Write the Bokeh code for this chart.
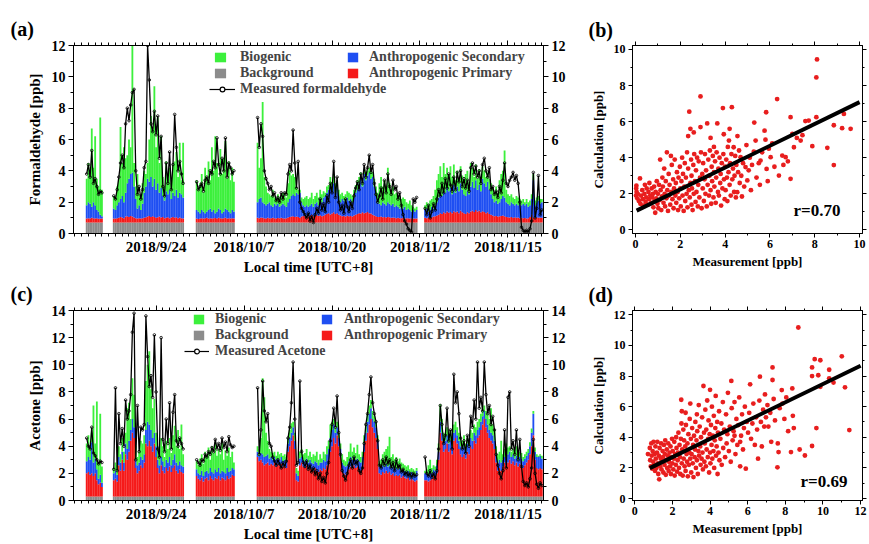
import numpy as np
import pandas as pd
from bokeh.plotting import figure
from bokeh.layouts import column, row
from bokeh.models import (ColumnDataSource, FixedTicker, LinearAxis, Legend, LegendItem,
                          Label, Range1d, CustomJSTickFormatter)
from bokeh.embed import file_html
from bokeh.resources import INLINE

FONT = "Liberation Serif"
GREEN, GRAY, BLUE, RED = "#3cf03c", "#8c8c8c", "#1f4ff2", "#f51a1a"
DOT_RED = "#e81e1e"

# ---------------- time axis: 6-hourly samples in measurement segments ----------------
SEGMENT_STARTS = ["2018-09-13 18:00", "2018-09-17 18:00", "2018-09-30 00:00",
                  "2018-10-09 00:00", "2018-11-02 18:00"]
SEGMENT_LENGTHS = [10, 42, 23, 95, 70]
REF_DAY = "2018-09-24"
DATE_TICKS = [0, 13, 26, 39, 52]
DATE_LABELS = ["2018/9/24", "2018/10/7", "2018/10/20", "2018/11/2", "2018/11/15"]
TIME_RANGE = (-12.2, 57.25)

# ---------------- (a) formaldehyde, ppb (stack tops are cumulative) ----------------
HCHO_BACKGROUND = 0.7
HCHO_MEASURED = [
    3.8, 4.4, 3.6, 5.3, 3.2, 3.5, 3.0, 2.5, 2.7, 2.6,
    2.4, 2.2, 2.8, 3.6, 4.5, 5.0, 4.2, 7.0, 8.0, 7.2, 8.2, 9.0, 9.2, 4.0, 2.5, 3.0, 2.2, 2.8, 4.2, 4.6,
    12.0, 9.8, 7.0, 6.5, 7.8, 6.3, 7.5, 4.8, 6.2, 3.0, 2.4, 4.5, 3.2, 5.2, 2.8, 4.4, 7.6, 5.5, 4.0, 4.6, 3.8, 3.2,
    3.3, 2.8, 3.0, 3.2, 2.7, 3.4, 3.6, 3.2, 4.0, 3.8, 4.6, 4.2, 6.1, 4.4, 3.8, 4.8, 4.0, 6.1, 3.6, 4.5, 4.2, 3.8, 4.0,
    7.4, 5.5, 7.0, 6.2, 4.0, 3.5, 3.2, 2.8, 3.0, 2.4, 2.6, 2.1, 2.3, 2.0, 2.6, 2.2, 2.6, 2.5, 3.8, 4.4,
    4.0, 6.6, 4.5, 2.9, 4.6, 2.0, 1.6, 1.4, 1.2, 1.0, 1.3, 0.8, 1.1, 0.7, 1.2, 1.6, 1.3, 2.2, 1.5, 1.9,
    1.4, 2.4, 2.0, 3.2, 2.6, 4.6, 2.3, 3.6, 2.0, 1.5, 1.8, 1.3, 2.2, 1.7, 1.4, 2.0, 1.6, 2.4, 2.9, 3.3,
    2.8, 3.8, 3.2, 4.4, 3.6, 4.2, 5.0, 3.9, 4.4, 3.2, 2.5, 2.0, 2.4, 2.9, 2.2, 3.4, 2.6, 3.8, 3.0, 2.5,
    3.4, 2.8, 3.0, 2.2, 2.6, 1.8, 1.2, 0.8, 0.6, 0.3, 0.2, 0.1, 2.2, 2.0, 2.3,
    1.6, 1.2, 1.8, 1.0, 1.4, 1.9, 1.5, 2.2, 2.8, 2.4, 3.2, 2.6, 3.5, 2.9, 3.8, 3.1, 2.7, 3.6, 2.8, 3.9, 3.3,
    4.0, 3.0, 3.5, 2.9, 3.4, 2.7, 4.2, 4.5, 3.8, 4.3, 3.6, 4.0, 3.2, 4.4, 4.8, 4.0, 3.6, 4.2, 2.8, 3.0,
    2.5, 2.7, 2.3, 3.0, 2.6, 3.4, 4.5, 3.2, 3.0, 3.4, 3.6, 3.9, 3.4, 3.7, 3.2, 2.0, 0.4, 0.2, 0.1, 0.2,
    0.1, 0.3, 0.8, 3.9, 1.0, 1.6, 3.7, 1.2, 1.5]
HCHO_TOP_PRIMARY = [
    0.95, 0.97, 0.96, 1.0, 0.98, 0.95, 0.97, 0.94, 0.96, 0.95,
    0.95, 0.96, 0.98, 1.0, 1.05, 1.02, 0.98, 1.08, 1.1, 1.05, 1.12, 1.08, 1.02, 0.98, 0.96, 0.98, 0.95, 0.97,
    1.0, 1.04, 1.08, 1.12, 1.06, 1.1, 1.05, 1.0, 1.04, 1.08, 1.02, 1.06, 0.98, 1.0, 1.04, 0.98, 1.02, 1.06,
    1.0, 1.04, 0.98, 1.02, 0.98, 0.96,
    0.95, 0.93, 0.96, 0.98, 0.95, 0.97, 1.0, 0.96, 0.98, 0.95, 0.97, 0.99, 0.96, 1.0, 0.97, 0.95, 0.98, 1.0,
    0.96, 0.98, 0.95, 0.97, 0.96,
    1.0, 0.98, 1.02, 1.0, 0.98, 0.96, 1.0, 0.98, 0.97, 1.0, 0.98, 0.96, 0.99, 0.97, 1.0, 0.98, 0.96, 0.98,
    1.02, 1.05, 1.08, 1.1, 1.06, 1.08,
    1.05, 1.0, 1.08, 1.12, 1.1, 1.15, 1.08, 1.12, 1.18, 1.1, 1.14, 1.2, 1.12, 1.16, 1.1, 1.14, 1.2, 1.25,
    1.3, 1.22, 1.28, 1.35, 1.25, 1.3,
    1.2, 1.15, 1.1, 1.12, 1.08, 1.14, 1.1, 1.12, 1.08, 1.15, 1.2, 1.25, 1.3, 1.28, 1.35, 1.3, 1.32, 1.38,
    1.3, 1.28, 1.2, 1.15, 1.1, 1.06,
    1.05, 1.08, 1.04, 1.06, 1.02, 1.05, 1.03, 1.0, 1.02, 1.0, 0.98, 1.0, 0.98, 0.97, 0.99, 0.96, 0.98, 0.97,
    0.95, 0.97, 0.96, 0.95, 0.96,
    1.0, 0.98, 1.02, 1.0, 1.04, 1.08, 1.1, 1.15, 1.2, 1.3, 1.25, 1.35, 1.3, 1.4, 1.32, 1.38, 1.3, 1.42,
    1.35, 1.4, 1.3, 1.45, 1.35, 1.3,
    1.25, 1.35, 1.3, 1.4, 1.45, 1.38, 1.5, 1.4, 1.45, 1.35, 1.42, 1.38, 1.3, 1.35, 1.25, 1.2, 1.15, 1.1,
    1.12, 1.08, 1.1, 1.12, 1.15, 1.1,
    1.06, 1.04, 1.02, 1.05, 1.0, 1.03, 1.0, 1.02, 0.98, 1.0, 0.97, 0.99, 0.96, 0.98, 1.05, 1.2, 1.02, 1.0,
    1.04, 1.0, 1.02, 1.0]
HCHO_TOP_SECONDARY = [
    1.8, 2.0, 1.9, 1.7, 2.0, 1.8, 1.5, 1.4, 1.2, 1.1,
    1.6, 1.5, 1.8, 2.0, 2.2, 2.4, 2.0, 2.6, 3.2, 3.5, 3.8, 3.9, 3.0, 2.2, 1.6, 1.8, 1.5, 1.9, 2.6, 3.0,
    3.5, 3.3, 3.6, 3.0, 3.5, 2.8, 3.2, 2.6, 2.9, 2.4, 2.1, 2.7, 2.5, 2.8, 2.2, 2.6, 2.4, 2.8, 2.3, 2.6, 2.5, 2.3,
    1.5, 1.4, 1.3, 1.5, 1.4, 1.3, 1.4, 1.5, 1.6, 1.4, 1.5, 1.3, 1.4, 1.6, 1.5, 1.3, 1.4, 1.6, 1.5, 1.4, 1.3, 1.5, 1.4,
    2.0, 2.2, 2.3, 2.0, 1.9, 1.8, 1.9, 2.0, 1.8, 1.7, 1.9, 1.8, 1.9, 1.7, 1.8, 1.9, 1.8, 1.7, 2.0, 2.2,
    2.4, 2.5, 2.4, 2.6, 2.5, 2.6, 2.0, 1.8, 1.7, 1.8, 1.7, 1.8, 1.9, 1.7, 1.9, 2.0, 1.8, 2.2, 2.0, 2.3,
    2.4, 2.6, 2.8, 3.0, 2.7, 3.2, 2.6, 2.9, 2.4, 2.0, 2.2, 2.1, 2.0, 2.3, 2.1, 2.2, 2.0, 2.3, 2.6, 2.8,
    3.2, 3.6, 3.0, 3.8, 3.4, 3.7, 3.9, 3.5, 3.6, 3.0, 2.4, 2.0, 1.9, 1.8, 2.0, 1.9, 1.8, 2.0, 1.9, 1.8,
    1.9, 1.7, 1.8, 1.7, 1.6, 1.7, 1.6, 1.7, 1.5, 1.6, 1.5, 1.4, 1.5, 1.4, 1.5,
    1.5, 1.6, 1.4, 1.5, 1.7, 1.6, 1.8, 2.0, 2.3, 2.6, 2.4, 2.8, 2.6, 3.0, 2.7, 2.9, 2.5, 3.1, 2.6, 3.0, 2.7,
    3.2, 2.8, 2.5, 2.4, 2.7, 2.5, 3.0, 3.3, 2.9, 3.4, 2.8, 3.1, 2.7, 3.5, 3.2, 3.0, 3.3, 2.8, 2.5, 2.2,
    2.0, 2.1, 1.9, 2.0, 2.2, 2.4, 2.3, 2.0, 1.9, 1.8, 2.0, 1.9, 1.8, 1.9, 1.8, 1.9, 1.8, 1.9, 1.8, 1.9,
    1.7, 1.8, 2.2, 3.4, 1.8, 2.0, 2.1, 1.9, 2.0]
HCHO_TOP_BIOGENIC = [
    3.5, 4.5, 4.0, 6.7, 4.2, 6.2, 3.5, 3.0, 7.4, 2.8,
    2.4, 2.2, 3.0, 3.5, 6.8, 4.5, 5.5, 4.8, 5.0, 6.0, 5.5, 12.0, 4.5, 3.0, 3.8, 2.5, 2.3, 3.2, 4.0, 3.8,
    4.5, 6.0, 7.5, 6.8, 9.4, 5.5, 7.4, 4.5, 6.2, 3.6, 3.0, 4.6, 3.5, 4.2, 3.2, 4.4, 4.6, 5.2, 3.6, 5.8, 3.4, 5.8,
    3.4, 2.8, 3.2, 3.8, 2.6, 4.2, 3.5, 4.6, 3.4, 5.5, 4.0, 6.2, 4.5, 3.6, 5.4, 3.8, 4.8, 5.9, 3.5, 4.6, 3.4, 4.2, 3.3,
    5.8, 4.2, 4.8, 8.4, 3.6, 3.0, 2.6, 2.5, 2.4, 2.8, 2.3, 2.2, 2.5, 2.3, 2.4, 2.6, 2.5, 2.3, 3.2, 4.0,
    3.7, 3.8, 3.6, 2.9, 2.8, 2.8, 2.3, 2.2, 2.3, 2.4, 2.2, 2.3, 2.6, 2.2, 2.4, 2.6, 2.3, 2.8, 2.5, 2.7,
    2.6, 3.0, 3.1, 3.6, 3.3, 3.8, 3.2, 3.4, 2.8, 2.5, 2.6, 2.4, 2.5, 2.7, 2.6, 2.5, 2.4, 2.8, 3.1, 3.4,
    3.6, 3.9, 3.4, 4.1, 3.8, 4.0, 4.2, 4.1, 3.9, 3.5, 3.0, 2.6, 3.2, 3.6, 3.0, 3.4, 2.8, 4.2, 3.2, 2.6,
    3.0, 2.5, 2.6, 2.3, 2.4, 2.2, 2.3, 2.2, 2.0, 1.9, 2.1, 1.8, 1.7, 1.6, 1.7,
    1.8, 2.0, 1.9, 2.1, 2.2, 2.4, 2.8, 3.4, 3.8, 4.3, 3.6, 4.5, 3.8, 4.2, 3.5, 4.3, 3.6, 4.4, 3.4, 4.0, 3.5,
    4.3, 3.7, 3.2, 3.8, 4.0, 3.3, 4.5, 4.2, 3.6, 4.4, 3.5, 4.1, 3.4, 4.3, 4.0, 3.6, 3.9, 3.5, 3.2, 2.9,
    2.6, 3.0, 2.6, 3.4, 3.8, 4.0, 5.3, 2.8, 2.5, 2.4, 2.5, 2.3, 2.2, 2.4, 2.3, 2.2, 2.1, 2.2, 2.0, 2.2,
    2.0, 2.1, 2.5, 3.8, 2.1, 2.3, 2.4, 2.2, 2.2]

# ---------------- (c) acetone, ppb (stack tops are cumulative) ----------------
ACETONE_BACKGROUND = 0.3
ACETONE_MEASURED = [
    4.6, 4.0, 3.8, 5.4, 3.5, 3.3, 3.0, 2.7, 2.9, 2.8,
    2.3, 8.3, 2.2, 6.4, 4.2, 5.3, 4.0, 7.4, 6.0, 6.6, 7.8, 12.4, 13.8, 3.0, 7.0, 3.6, 5.4, 5.2, 5.6, 13.6,
    10.6, 8.4, 9.2, 7.6, 12.2, 8.0, 3.8, 3.2, 12.0, 4.5, 3.6, 6.0, 4.2, 7.2, 3.8, 6.5, 7.8, 4.4, 4.0, 4.6, 4.2, 3.8,
    3.0, 2.8, 2.6, 3.0, 2.9, 3.4, 3.2, 3.6, 3.4, 3.9, 3.6, 4.5, 3.8, 4.2, 3.7, 4.6, 3.9, 4.3, 3.6, 4.7, 4.1, 3.9, 4.0,
    8.3, 3.4, 5.2, 8.8, 6.6, 5.8, 6.4, 4.2, 4.0, 3.2, 2.9, 2.6, 3.0, 2.7, 2.4, 2.8, 2.5, 2.9, 4.6, 5.4,
    7.2, 10.2, 6.0, 2.6, 2.8, 8.8, 3.6, 2.8, 2.5, 2.9, 2.3, 2.6, 2.1, 2.4, 1.9, 2.2, 1.6, 2.0, 1.4, 1.7,
    1.3, 2.0, 2.8, 4.4, 5.6, 6.8, 5.4, 7.7, 5.0, 3.4, 2.2, 1.8, 1.5, 2.0, 2.6, 3.0, 2.4, 3.2, 2.7, 2.9,
    2.2, 2.0, 2.4, 4.2, 5.6, 6.4, 7.8, 9.1, 7.2, 6.4, 5.8, 4.4, 2.6, 2.4, 3.0, 2.6, 3.2, 2.7, 3.0, 2.4,
    2.8, 2.2, 3.0, 2.4, 2.6, 2.1, 2.3, 1.9, 2.1, 1.8, 2.0, 1.7, 2.0, 1.8, 1.9,
    3.2, 2.0, 1.8, 2.2, 1.7, 2.0, 1.6, 2.2, 3.8, 7.0, 5.6, 4.2, 4.8, 6.8, 4.4, 5.2, 3.8, 9.3, 7.2, 8.0, 6.4,
    4.6, 3.8, 4.4, 3.5, 4.8, 4.0, 6.2, 5.4, 7.4, 6.0, 10.2, 6.8, 7.6, 6.6, 10.2, 7.8, 6.4, 7.0, 5.6, 6.2,
    5.2, 3.4, 2.6, 2.0, 1.6, 2.2, 5.2, 2.4, 7.6, 8.0, 3.8, 4.4, 3.4, 5.2, 3.0, 4.5, 2.5, 1.4, 1.1, 1.3,
    1.0, 1.6, 2.4, 4.5, 2.0, 1.2, 0.9, 1.3, 1.1]
ACETONE_TOP_PRIMARY = [
    2.0, 2.1, 1.9, 2.0, 1.8, 2.0, 1.5, 1.2, 1.3, 1.0,
    1.5, 1.6, 1.4, 2.6, 2.2, 3.0, 2.2, 3.4, 3.0, 3.6, 4.4, 5.0, 4.6, 2.4, 2.0, 2.2, 2.6, 2.4, 2.8, 4.2,
    4.0, 4.4, 4.0, 3.6, 4.2, 3.2, 2.4, 2.0, 2.6, 2.2, 2.0, 2.4, 2.2, 2.5, 2.1, 2.4, 2.6, 2.2, 2.0, 2.3, 2.1, 2.0,
    1.8, 1.6, 1.5, 1.7, 1.4, 1.6, 1.7, 1.5, 1.8, 1.6, 1.5, 1.7, 1.6, 1.8, 1.5, 1.7, 1.6, 1.5, 1.8, 1.6, 1.7, 1.9, 1.8,
    3.2, 2.9, 3.0, 2.8, 2.6, 2.7, 2.8, 2.6, 2.7, 2.6, 2.8, 2.5, 2.7, 2.6, 2.7, 2.5, 2.6, 2.4, 3.6, 4.0,
    4.4, 4.8, 3.8, 1.5, 1.4, 2.6, 2.8, 2.5, 2.4, 2.6, 2.3, 2.5, 2.3, 2.2, 2.4, 2.2, 2.1, 2.3, 2.2, 2.4,
    2.3, 2.6, 3.0, 3.6, 4.0, 4.6, 4.2, 4.8, 4.0, 3.2, 2.2, 2.0, 1.9, 2.1, 2.3, 2.5, 2.4, 2.6, 2.4, 2.5,
    2.3, 2.2, 2.6, 3.6, 4.4, 5.0, 5.6, 6.0, 5.4, 5.0, 4.6, 3.8, 2.0, 1.9, 2.1, 2.0, 2.2, 2.0, 2.1, 1.9,
    2.0, 1.8, 1.9, 1.8, 1.9, 1.7, 1.8, 1.7, 1.6, 1.7, 1.5, 1.6, 1.5, 1.4, 1.5,
    1.5, 1.5, 1.4, 1.5, 1.6, 1.8, 1.7, 2.0, 3.0, 5.0, 4.4, 3.6, 3.8, 4.2, 3.6, 3.8, 3.4, 4.4, 4.6, 4.2, 3.8,
    3.4, 3.2, 3.4, 3.1, 3.6, 3.4, 4.0, 3.8, 4.4, 4.2, 4.6, 4.8, 5.2, 5.6, 6.0, 5.4, 5.0, 4.6, 4.4, 4.2,
    3.8, 2.8, 2.2, 2.4, 2.2, 2.5, 2.8, 2.6, 2.8, 3.0, 2.7, 2.9, 2.6, 2.8, 2.5, 2.7, 2.6, 2.4, 2.6, 2.8,
    3.0, 3.4, 4.0, 4.8, 3.0, 2.4, 2.3, 2.4, 2.3]
ACETONE_TOP_SECONDARY = [
    2.9, 3.2, 3.0, 4.3, 2.8, 3.1, 2.3, 1.6, 1.9, 1.3,
    2.0, 2.2, 1.9, 3.2, 2.8, 3.6, 2.8, 4.2, 3.8, 4.4, 5.2, 6.0, 5.4, 3.0, 2.6, 2.8, 3.2, 3.0, 3.4, 5.2,
    5.8, 5.6, 5.2, 4.6, 5.0, 4.0, 3.0, 2.6, 3.2, 2.9, 2.5, 3.0, 2.8, 3.2, 2.6, 3.0, 3.4, 2.8, 2.6, 2.9, 2.6, 2.5,
    2.3, 2.0, 1.9, 2.2, 1.8, 2.1, 2.2, 2.0, 2.4, 2.1, 2.0, 2.3, 2.1, 2.4, 2.0, 2.2, 2.1, 2.0, 2.4, 2.1, 2.2, 2.4, 2.3,
    3.6, 3.3, 3.5, 3.4, 3.2, 3.3, 3.4, 3.1, 3.2, 3.0, 3.2, 3.0, 3.1, 3.0, 3.2, 2.9, 3.0, 2.9, 4.2, 4.6,
    5.0, 5.4, 4.4, 2.0, 1.8, 3.1, 3.2, 3.0, 2.9, 3.1, 2.8, 3.0, 2.8, 2.7, 2.9, 2.8, 2.6, 2.8, 2.8, 3.0,
    2.9, 3.4, 3.8, 4.6, 5.2, 5.6, 5.0, 5.4, 4.6, 3.8, 2.8, 2.6, 2.5, 2.6, 2.9, 3.2, 3.0, 3.2, 3.0, 3.1,
    2.9, 2.8, 3.2, 4.2, 5.0, 5.8, 6.4, 6.8, 6.0, 5.8, 5.4, 4.4, 2.5, 2.4, 2.6, 2.5, 2.7, 2.5, 2.6, 2.4,
    2.5, 2.3, 2.4, 2.3, 2.4, 2.2, 2.3, 2.2, 2.1, 2.2, 2.0, 2.1, 2.0, 1.9, 2.2,
    2.0, 2.0, 1.9, 2.1, 2.0, 2.3, 2.2, 2.6, 3.6, 5.8, 5.0, 4.3, 4.4, 4.8, 4.2, 4.4, 4.0, 5.0, 5.2, 4.8, 4.4,
    4.0, 3.8, 4.0, 3.7, 4.2, 4.0, 4.6, 4.4, 5.0, 4.8, 5.2, 5.4, 5.8, 6.2, 6.6, 6.0, 5.6, 5.2, 5.0, 4.8,
    4.4, 3.4, 2.8, 3.0, 2.8, 3.0, 3.2, 3.1, 3.4, 3.6, 3.2, 3.4, 3.1, 3.3, 3.0, 3.2, 3.1, 2.9, 3.1, 3.3,
    3.5, 4.0, 5.0, 6.4, 3.6, 3.2, 3.2, 3.3, 3.1]
ACETONE_TOP_BIOGENIC = [
    4.2, 4.8, 4.0, 5.0, 7.0, 4.2, 7.3, 2.8, 6.4, 2.5,
    2.4, 2.8, 2.6, 4.0, 3.4, 4.6, 3.6, 5.0, 6.8, 7.2, 6.0, 9.0, 7.8, 4.0, 3.2, 3.6, 4.4, 4.2, 4.8, 8.8,
    10.0, 11.0, 8.2, 6.8, 7.5, 5.0, 4.0, 3.4, 4.6, 4.0, 3.2, 4.4, 3.8, 4.6, 3.5, 4.8, 5.5, 4.0, 5.2, 3.8, 5.6, 3.4,
    2.9, 2.6, 3.1, 3.4, 2.7, 3.6, 3.2, 3.9, 3.0, 4.0, 3.5, 4.3, 3.3, 3.8, 3.4, 4.4, 3.0, 3.7, 3.3, 3.9, 3.2, 3.6, 2.8,
    4.0, 3.8, 4.6, 9.0, 7.6, 5.0, 4.4, 3.8, 3.6, 3.5, 3.6, 3.3, 3.6, 3.4, 3.5, 3.3, 3.4, 3.2, 4.6, 5.2,
    5.7, 5.8, 5.0, 2.4, 2.2, 3.6, 3.8, 3.4, 3.5, 3.8, 3.3, 3.6, 3.2, 3.4, 3.3, 3.6, 3.0, 3.4, 3.1, 3.6,
    3.4, 4.0, 4.4, 5.6, 5.8, 6.0, 5.4, 5.8, 5.0, 4.2, 3.4, 3.0, 2.9, 3.2, 3.6, 4.2, 3.6, 3.9, 3.5, 4.1,
    3.4, 3.2, 3.6, 4.8, 5.6, 6.4, 7.0, 7.4, 6.6, 6.2, 5.8, 4.8, 2.9, 3.0, 3.4, 3.6, 3.8, 4.0, 4.7, 3.2,
    3.4, 3.0, 3.2, 2.9, 3.1, 2.8, 2.7, 2.6, 2.5, 2.6, 2.3, 2.4, 2.3, 2.2, 2.4,
    2.2, 2.3, 2.6, 3.0, 2.4, 2.6, 2.5, 3.0, 4.2, 7.1, 6.0, 5.0, 4.9, 5.4, 4.8, 5.2, 4.5, 5.6, 5.8, 5.4, 5.0,
    4.6, 4.4, 4.8, 4.2, 4.6, 4.4, 5.2, 5.0, 5.6, 5.4, 5.8, 6.0, 6.4, 6.8, 7.0, 6.6, 6.4, 6.0, 6.8, 5.6,
    5.2, 4.0, 3.4, 3.6, 4.4, 3.4, 3.8, 4.2, 3.9, 4.0, 3.6, 3.8, 3.6, 4.0, 3.4, 3.6, 3.5, 3.2, 3.4, 3.6,
    3.8, 4.3, 5.3, 6.6, 3.9, 3.4, 3.3, 3.4, 3.3]

# ---------------- (b) / (d) scatter: (measurement, calculation) ppb ----------------
HCHO_SCATTER = [
    (0.02, 1.9), (0.03, 2.3), (0.05, 2.1), (0.04, 2.45), (0.08, 1.75), (0.1, 2.0),
    (0.15, 1.6), (0.2, 2.85), (0.22, 1.45), (0.25, 1.9), (0.3, 2.2), (0.32, 1.7), (0.35, 1.35), (0.4, 2.0),
    (0.42, 2.5), (0.45, 1.55), (0.48, 1.8), (0.5, 2.3), (0.55, 1.4), (0.58, 2.1), (0.6, 1.7), (0.62, 2.6),
    (0.66, 1.9), (0.7, 1.5), (0.72, 2.3), (0.75, 1.8), (0.78, 2.0), (0.8, 1.25), (0.83, 2.4), (0.85, 1.6),
    (0.88, 0.95), (0.9, 2.1), (0.93, 1.75), (0.95, 2.7), (0.98, 1.45), (1.0, 2.0), (1.02, 1.2), (1.05, 2.5),
    (1.08, 1.65), (1.1, 3.9), (1.12, 2.2), (1.15, 1.1), (1.18, 1.85), (1.2, 2.9), (1.22, 2.4), (1.25, 1.5),
    (1.28, 3.4), (1.3, 2.0), (1.32, 1.3), (1.35, 2.7), (1.38, 1.75), (1.4, 4.3), (1.42, 2.2), (1.45, 1.05),
    (1.48, 3.1), (1.5, 1.9), (1.52, 2.5), (1.55, 1.4), (1.58, 4.1), (1.6, 2.1), (1.62, 3.6), (1.65, 1.7),
    (1.68, 2.8), (1.7, 1.2), (1.72, 2.3), (1.75, 3.9), (1.78, 1.9), (1.8, 2.6), (1.82, 1.5), (1.85, 3.2),
    (1.88, 2.1), (1.9, 1.1), (1.92, 2.9), (1.95, 1.75), (1.98, 3.5), (2.0, 2.3), (2.02, 1.3), (2.05, 2.7),
    (2.08, 4.0), (2.1, 1.9), (2.12, 3.1), (2.15, 1.05), (2.18, 2.4), (2.2, 3.7), (2.22, 1.6), (2.25, 2.9),
    (2.28, 2.0), (2.3, 4.3), (2.32, 1.25), (2.35, 3.4), (2.38, 2.2), (2.4, 6.55), (2.42, 1.8), (2.45, 2.6),
    (2.48, 3.9), (2.5, 1.4), (2.35, 5.2), (2.45, 5.6), (2.5, 3.0), (2.52, 2.3), (2.55, 1.1), (2.58, 3.6),
    (2.6, 2.0), (2.62, 4.2), (2.65, 2.7), (2.68, 1.55), (2.7, 3.3), (2.72, 2.1), (2.75, 4.0), (2.78, 1.3),
    (2.8, 2.5), (2.82, 3.8), (2.85, 1.8), (2.88, 2.9), (2.9, 7.4), (2.92, 4.3), (2.95, 1.2), (2.98, 3.1),
    (3.0, 2.3), (2.6, 5.4), (2.9, 5.7), (3.02, 3.7), (3.05, 1.6), (3.08, 2.8), (3.1, 4.2), (3.12, 2.0),
    (3.15, 3.3), (3.18, 1.3), (3.2, 5.9), (3.22, 2.5), (3.25, 3.9), (3.28, 1.9), (3.3, 3.0), (3.32, 4.4),
    (3.35, 2.2), (3.38, 1.45), (3.4, 3.5), (3.42, 2.7), (3.45, 4.1), (3.48, 1.8), (3.5, 3.2), (3.35, 5.1),
    (3.5, 4.6), (3.52, 2.4), (3.55, 3.8), (3.58, 1.5), (3.6, 2.9), (3.62, 4.3), (3.65, 5.9), (3.68, 2.1),
    (3.7, 3.4), (3.72, 1.9), (3.75, 4.0), (3.78, 2.6), (3.8, 3.1), (3.82, 1.35), (3.85, 3.7), (3.88, 2.3),
    (3.9, 6.75), (3.92, 4.2), (3.94, 5.3), (3.95, 2.8), (3.98, 1.7), (4.0, 3.5), (4.02, 2.2), (4.05, 3.9),
    (4.08, 2.9), (4.1, 1.6), (4.12, 4.6), (4.15, 3.2), (4.17, 4.95), (4.2, 2.5), (4.22, 3.7), (4.25, 1.9),
    (4.28, 4.2), (4.3, 6.8), (4.32, 2.8), (4.35, 3.4), (4.38, 4.58), (4.4, 2.1), (4.42, 3.0), (4.45, 4.1),
    (4.48, 1.8), (4.5, 3.6), (4.54, 2.09), (4.58, 3.2), (4.62, 4.4), (4.65, 2.6), (4.69, 4.03), (4.72, 3.0),
    (4.75, 1.85), (4.8, 3.7), (4.85, 2.4), (4.91, 3.48), (4.95, 4.7), (4.99, 2.74), (5.05, 3.3), (5.1, 4.0),
    (5.15, 2.2), (5.2, 3.6), (5.28, 4.34), (5.36, 4.95), (5.4, 2.9), (5.5, 3.7), (5.58, 3.84), (5.65, 4.3),
    (5.76, 5.5), (5.83, 6.52), (5.85, 3.38), (5.9, 2.7), (5.95, 4.5), (5.55, 2.5), (6.03, 4.03), (6.1, 4.8),
    (6.2, 3.5), (6.32, 7.25), (6.4, 3.01), (6.55, 4.12), (6.6, 3.6), (6.7, 4.03), (6.8, 3.8), (6.92, 2.83),
    (6.92, 6.25), (7.0, 5.32), (7.07, 4.58), (7.2, 5.1), (7.37, 4.95), (7.45, 5.25), (7.58, 6.03), (7.73, 6.06),
    (7.89, 4.64), (8.07, 6.25), (8.07, 8.45), (8.1, 9.45), (8.56, 4.55), (8.85, 5.8), (8.85, 3.59), (9.22, 5.64),
    (9.3, 6.43), (9.6, 5.6), (5.3, 5.95), (5.8, 5.0), (4.2, 5.6), (4.55, 5.2)]
ACETONE_SCATTER = [
    (0.7, 2.9), (0.8, 3.3), (0.82, 2.5), (0.85, 2.1), (0.88, 3.6), (0.9, 2.8), (0.93, 1.95), (0.95, 3.1),
    (0.98, 2.4), (1.0, 3.7), (1.02, 2.2), (1.05, 2.9), (1.08, 1.8), (1.1, 3.4), (1.12, 2.6), (1.15, 2.0),
    (1.18, 3.0), (1.2, 3.7), (1.22, 2.3), (1.25, 1.6), (1.28, 2.8), (1.3, 1.25), (1.32, 3.3), (1.35, 2.1),
    (1.38, 2.6), (1.4, 3.6), (1.42, 1.9), (1.45, 2.4), (1.48, 3.1), (1.5, 2.7), (1.52, 1.7), (1.55, 3.5),
    (1.58, 2.2), (1.6, 2.9), (1.62, 3.8), (1.65, 1.55), (1.68, 2.5), (1.7, 3.2), (1.72, 2.0), (1.75, 2.8),
    (1.78, 3.6), (1.8, 1.8), (1.82, 2.4), (1.85, 3.0), (1.88, 2.1), (1.9, 3.4), (1.92, 1.6), (1.95, 2.7),
    (1.98, 3.9), (2.0, 2.3), (2.02, 3.1), (2.05, 1.9), (2.08, 2.6), (2.1, 3.7), (2.12, 1.5), (2.15, 2.9),
    (2.18, 2.2), (2.2, 4.0), (2.22, 3.3), (2.25, 1.75), (2.28, 2.5), (2.3, 3.0), (2.32, 4.3), (2.35, 2.0),
    (2.38, 3.5), (2.4, 2.7), (2.42, 1.6), (2.45, 3.9), (2.48, 4.9), (2.5, 2.3), (2.5, 5.7), (2.47, 6.45),
    (2.52, 3.2), (2.55, 1.5), (2.58, 4.5), (2.6, 2.6), (2.62, 3.8), (2.65, 2.1), (2.68, 3.4), (2.7, 1.8),
    (2.72, 4.8), (2.75, 2.9), (2.78, 2.4), (2.8, 3.6), (2.82, 1.45), (2.85, 4.2), (2.88, 2.2), (2.9, 3.0),
    (2.92, 5.2), (2.95, 2.6), (2.98, 3.9), (3.0, 1.7), (2.7, 5.6), (2.95, 6.2), (3.02, 2.9), (3.05, 4.6),
    (3.08, 2.3), (3.1, 3.5), (3.12, 1.4), (3.15, 4.1), (3.18, 2.7), (3.2, 3.2), (3.22, 5.0), (3.25, 2.0),
    (3.28, 3.8), (3.3, 2.5), (3.32, 4.4), (3.35, 1.6), (3.38, 3.1), (3.4, 6.1), (3.42, 2.8), (3.45, 4.7),
    (3.48, 3.4), (3.5, 2.2), (3.3, 5.5), (3.52, 4.0), (3.55, 2.6), (3.58, 5.3), (3.6, 3.0), (3.62, 1.9),
    (3.65, 7.35), (3.68, 4.3), (3.7, 2.4), (3.72, 3.6), (3.75, 5.8), (3.78, 2.1), (3.8, 4.5), (3.82, 3.2),
    (3.85, 6.4), (3.88, 2.7), (3.9, 3.9), (3.92, 5.1), (3.95, 1.7), (3.98, 4.2), (4.0, 7.1), (4.0, 3.0),
    (4.02, 2.3), (4.05, 4.8), (4.08, 3.5), (4.1, 6.0), (4.12, 2.6), (4.15, 4.1), (4.18, 3.1), (4.2, 5.4),
    (4.22, 2.0), (4.25, 3.8), (4.28, 4.6), (4.3, 6.7), (4.32, 2.8), (4.35, 3.4), (4.38, 5.0), (4.4, 1.6),
    (4.42, 4.3), (4.45, 3.0), (4.48, 5.7), (4.5, 2.5), (4.55, 3.9), (4.6, 4.9), (4.62, 2.2), (4.68, 6.3),
    (4.7, 3.3), (4.75, 4.5), (4.8, 2.7), (4.85, 5.5), (4.88, 3.6), (4.92, 4.2), (4.95, 6.9), (5.0, 3.1),
    (5.05, 4.7), (5.1, 2.4), (5.13, 7.68), (5.15, 5.9), (5.2, 3.8), (5.25, 4.4), (5.3, 6.3), (5.35, 2.9),
    (5.4, 5.2), (5.45, 3.5), (5.5, 4.8), (5.55, 6.6), (5.6, 2.1), (5.65, 4.1), (5.7, 5.5), (5.75, 3.2),
    (5.8, 4.6), (5.85, 6.0), (5.9, 1.95), (5.95, 5.0), (5.3, 4.1), (5.6, 3.7), (6.02, 4.3), (6.08, 5.6),
    (6.13, 7.46), (6.18, 3.9), (6.25, 4.9), (6.3, 6.2), (6.38, 3.5), (6.45, 5.3), (6.5, 4.5), (6.55, 2.6),
    (6.62, 6.4), (6.65, 7.96), (6.7, 5.0), (6.75, 3.4), (6.82, 5.8), (6.88, 4.7), (6.92, 6.8), (6.97, 5.3),
    (7.05, 6.1), (7.1, 4.7), (7.2, 5.6), (7.25, 3.7), (7.32, 7.74), (7.32, 8.56), (7.38, 6.5), (7.45, 5.1),
    (7.58, 2.04), (7.6, 3.6), (7.64, 3.03), (7.7, 5.9), (7.81, 7.08), (7.85, 6.2), (7.95, 5.2), (8.05, 6.6),
    (8.15, 4.4), (8.3, 3.03), (8.37, 7.19), (8.4, 5.4), (8.45, 4.6), (8.69, 11.17), (8.76, 3.2), (9.04, 2.81),
    (9.42, 8.56), (9.42, 8.0), (9.42, 3.43), (9.56, 9.1), (9.65, 4.6), (9.75, 8.05), (9.86, 9.03), (9.86, 7.3),
    (10.33, 8.41), (10.33, 7.85), (10.56, 7.57), (11.0, 9.29), (11.17, 7.26), (11.4, 4.47)]
# linear fits: slope, intercept, x start, x end
HCHO_FIT = (0.604, 1.04, 0.05, 10.0)
ACETONE_FIT = (0.597, 1.51, 0.8, 12.0)
HCHO_R = "r=0.70"
ACETONE_R = "r=0.69"


def seg_days():
    ref = pd.Timestamp(REF_DAY)
    out = []
    for s, n in zip(SEGMENT_STARTS, SEGMENT_LENGTHS):
        t = pd.date_range(s, periods=n, freq="6h")
        out.append(np.asarray((t - ref) / pd.Timedelta(days=1), dtype=float))
    return out


SEG_DAYS = seg_days()
DAYS = np.concatenate(SEG_DAYS)


def broken(values):
    xs, ys, k = [], [], 0
    for d in SEG_DAYS:
        n = len(d)
        xs += list(d) + [np.nan]
        ys += list(values[k:k + n]) + [np.nan]
        k += n
    return np.array(xs, dtype=float), np.array(ys, dtype=float)


def style_axis(ax, size, label_size):
    ax.major_label_text_font = FONT
    ax.major_label_text_font_style = "bold"
    ax.major_label_text_font_size = size
    ax.major_label_text_color = "black"
    ax.axis_label_text_font = FONT
    ax.axis_label_text_font_style = "bold"
    ax.axis_label_text_font_size = label_size
    ax.axis_label_text_color = "black"
    ax.axis_line_color = "black"
    ax.major_tick_line_color = "black"
    ax.minor_tick_line_color = "black"
    ax.major_tick_in = 0
    ax.minor_tick_in = 0
    ax.major_tick_out = 5
    ax.minor_tick_out = 3


def blank_axis(ticker):
    ax = LinearAxis(ticker=ticker, formatter=CustomJSTickFormatter(code="return ''"))
    style_axis(ax, "1px", "1px")
    ax.major_label_standoff = 0
    return ax


def set_tag(p, text, offset):
    p.title.text = text
    p.title.align = "left"
    p.title.offset = offset
    p.title.standoff = 1
    p.title.text_font = FONT
    p.title.text_font_style = "bold"
    p.title.text_font_size = "20px"
    p.title.text_color = "black"


def add_legend(p, items, loc, gw, standoff):
    lg = Legend(items=items, location=loc, glyph_width=gw, glyph_height=12, label_standoff=standoff,
                label_text_font=FONT, label_text_font_style="bold", label_text_font_size="14px",
                label_height=16, spacing=0, padding=0, margin=0, border_line_color=None,
                background_fill_alpha=0)
    p.add_layout(lg)


# shared geometry so frames line up in rows and columns (page has no margin)
COL1 = (73, 470, 40)     # left border, frame width, right border
COL2 = (49, 230, 6)
ROW1 = (45, 188, 42)     # top border, frame height, bottom border
ROW2 = (33, 190, 42)


def base_figure(col, rw, xr, yr):
    p = figure(frame_width=col[1], frame_height=rw[1], x_range=Range1d(*xr), y_range=Range1d(*yr),
               output_backend="svg", toolbar_location=None,
               min_border_left=col[0], min_border_right=col[2],
               min_border_top=rw[0], min_border_bottom=rw[2])
    p.xgrid.visible = False
    p.ygrid.visible = False
    p.outline_line_color = "black"
    return p


def time_panel(tag, ylabel, ymax, bg, top_pr, top_se, top_bi, measured, meas_label, rw, legs):
    p = base_figure(COL1, rw, TIME_RANGE, (0, ymax))
    n = len(DAYS)
    pr = np.array(top_pr, dtype=float)
    se = np.maximum(np.array(top_se, dtype=float), pr)
    bi = np.maximum(np.array(top_bi, dtype=float), se)
    src = ColumnDataSource(dict(x=DAYS, b0=np.zeros(n), bg=np.full(n, bg), pr=pr, se=se, bi=bi))
    w = 0.27
    r_bg = p.vbar(x="x", width=w, bottom="b0", top="bg", source=src, fill_color=GRAY, line_color=None)
    r_pr = p.vbar(x="x", width=w, bottom="bg", top="pr", source=src, fill_color=RED, line_color=None)
    r_se = p.vbar(x="x", width=w, bottom="pr", top="se", source=src, fill_color=BLUE, line_color=None)
    r_bi = p.vbar(x="x", width=w, bottom="se", top="bi", source=src, fill_color=GREEN, line_color=None)
    mx, my = broken(measured)
    p.line(mx, my, line_color="black", line_width=1.3)
    p.scatter(DAYS, np.array(measured, dtype=float), marker="circle", size=2.6, fill_alpha=0,
              line_color="black", line_width=0.8)
    # legend-only proxies, placed outside the visible range
    off = [TIME_RANGE[0] - 20, TIME_RANGE[0] - 19]
    lp = p.line(x=off, y=[-5, -5], line_color="black", line_width=1.2)
    cp = p.scatter(x=off[:1], y=[-5], marker="circle", size=11, fill_color="white",
                   line_color="black", line_width=1.2)

    xt = FixedTicker(ticks=DATE_TICKS, minor_ticks=list(range(-12, 58)))
    yt = FixedTicker(ticks=list(range(0, ymax + 1, 2)), minor_ticks=list(range(0, ymax + 1)))
    xa = p.xaxis[0]
    ya = p.yaxis[0]
    xa.ticker = xt
    ya.ticker = yt
    xa.major_label_overrides = dict(zip(DATE_TICKS, DATE_LABELS))
    style_axis(xa, "15px", "15px")
    style_axis(ya, "14px", "15px")
    xa.axis_label = "Local time [UTC+8]"
    ya.axis_label = ylabel
    xa.major_tick_out = 4
    xa.major_label_standoff = 1
    xa.axis_label_standoff = 1
    ya.major_label_standoff = 3
    ya.axis_label_standoff = 6
    ra = LinearAxis(ticker=yt)
    style_axis(ra, "14px", "15px")
    ra.major_label_standoff = 3
    p.add_layout(ra, "right")
    p.add_layout(blank_axis(xt), "above")

    (la, lb, lc) = legs
    add_legend(p, [LegendItem(label="Biogenic", renderers=[r_bi]),
                   LegendItem(label="Background", renderers=[r_bg])], la[0], la[1], la[2])
    add_legend(p, [LegendItem(label=meas_label, renderers=[lp, cp])], lb[0], lb[1], lb[2])
    add_legend(p, [LegendItem(label="Anthropogenic Secondary", renderers=[r_se]),
                   LegendItem(label="Anthropogenic Primary", renderers=[r_pr])], lc[0], lc[1], lc[2])
    set_tag(p, tag, -63)
    return p


def scatter_panel(tag, pts, fit, tmax, xr, yr, rtext, rxy, rw):
    p = base_figure(COL2, rw, xr, yr)
    xs = np.array([a for a, b in pts])
    ys = np.array([b for a, b in pts])
    p.scatter(xs, ys, marker="circle", size=4.8, fill_color=DOT_RED, line_color=None)
    slope, icpt, x0, x1 = fit
    fx = np.array([x0, x1])
    p.line(fx, icpt + slope * fx, line_color="black", line_width=4)
    tk = FixedTicker(ticks=list(range(0, tmax + 1, 2)), minor_ticks=list(range(0, tmax + 1)))
    xa = p.xaxis[0]
    ya = p.yaxis[0]
    xa.ticker = tk
    ya.ticker = tk
    style_axis(xa, "12px", "13px")
    style_axis(ya, "12px", "13px")
    xa.axis_label = "Measurement [ppb]"
    ya.axis_label = "Calculation [ppb]"
    xa.major_tick_out = 4
    ya.major_tick_out = 4
    xa.minor_tick_out = 2
    ya.minor_tick_out = 2
    xa.major_label_standoff = 2
    ya.major_label_standoff = 3
    xa.axis_label_standoff = 3
    ya.axis_label_standoff = 5
    top = blank_axis(tk)
    right = blank_axis(tk)
    for ax in (top, right):
        ax.major_tick_out = 4
        ax.minor_tick_out = 2
    p.add_layout(top, "above")
    p.add_layout(right, "right")
    p.add_layout(Label(x=rxy[0], y=rxy[1], text=rtext, text_font=FONT, text_font_style="bold",
                       text_font_size="17px", text_align="center", text_baseline="middle",
                       text_color="black"))
    set_tag(p, tag, -44)
    return p


pa = time_panel("(a)", "Formaldehyde [ppb]", 12, HCHO_BACKGROUND, HCHO_TOP_PRIMARY,
                HCHO_TOP_SECONDARY, HCHO_TOP_BIOGENIC, HCHO_MEASURED, "Measured formaldehyde", ROW1,
                (((140, 152), 14, 13), ((136, 136), 26, 5), ((273, 152), 13, 10)))
pc = time_panel("(c)", "Acetone [ppb]", 14, ACETONE_BACKGROUND, ACETONE_TOP_PRIMARY,
                ACETONE_TOP_SECONDARY, ACETONE_TOP_BIOGENIC, ACETONE_MEASURED, "Measured Acetone", ROW2,
                (((119, 157), 13, 10), ((111, 141), 25, 6), ((247, 157), 13, 11)))
pb = scatter_panel("(b)", HCHO_SCATTER, HCHO_FIT, 10, (-0.134, 10.13), (-0.2, 10.22),
                   HCHO_R, (8.1, 1.07), ROW1)
pd_ = scatter_panel("(d)", ACETONE_SCATTER, ACETONE_FIT, 12, (-0.12, 12.1), (-0.13, 12.28),
                    ACETONE_R, (10.05, 1.13), ROW2)

layout = column(row(pa, pb), row(pc, pd_))
open("out.html", "w").write(file_html(layout, INLINE))
